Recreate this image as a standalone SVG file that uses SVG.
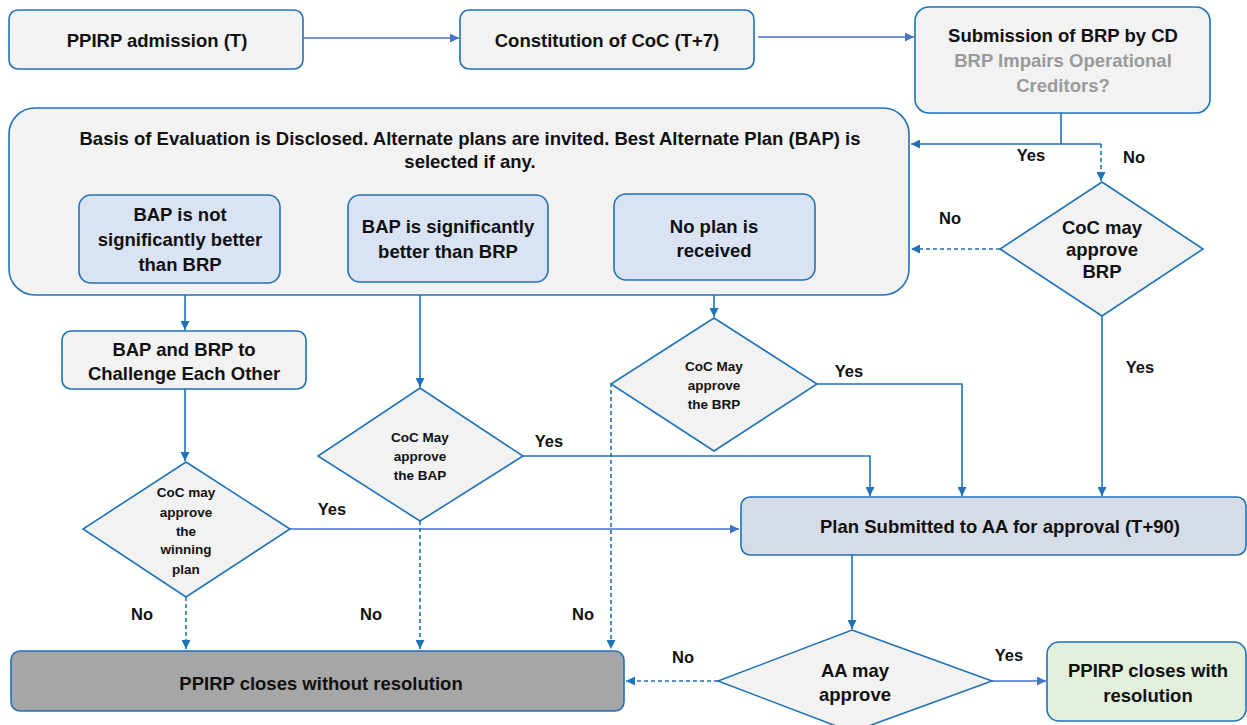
<svg xmlns="http://www.w3.org/2000/svg" width="1247" height="725" viewBox="0 0 1247 725">
<defs>
<marker id="ah" viewBox="0 0 10 10" refX="10" refY="5" markerWidth="9" markerHeight="9" markerUnits="userSpaceOnUse" orient="auto"><path d="M0,0 L10,5 L0,10 z" fill="#1f72b8"/></marker>
<marker id="ah2" viewBox="0 0 10 10" refX="10" refY="5" markerWidth="9" markerHeight="9" markerUnits="userSpaceOnUse" orient="auto"><path d="M0,0 L10,5 L0,10 z" fill="#4472c4"/></marker>
<style>
text{font-family:"Liberation Sans",Arial,sans-serif;font-weight:bold;fill:#111;text-anchor:middle;dominant-baseline:central}
.box{fill:#f2f2f2;stroke:#1f72b8;stroke-width:1.6}
.inner{fill:#dae3f3;stroke:#1f72b8;stroke-width:1.6}
.dia{fill:#f2f2f2;stroke:#1f72b8;stroke-width:1.6}
.t16{font-size:18.5px}
.t15{font-size:18.5px}
.t12{font-size:13.5px}
.lbl{font-size:16.5px}
.c{fill:none;stroke:#1f72b8;stroke-width:1.6}
.c2{fill:none;stroke:#4472c4;stroke-width:1.6}
.d{fill:none;stroke:#1f72b8;stroke-width:1.6;stroke-dasharray:4 3}
.grey{fill:#9a9a9a}
</style>
</defs>

<g id="connectors">
<path class="c2" d="M303,38 H459" marker-end="url(#ah2)"/>
<path class="c2" d="M758,37 H914" marker-end="url(#ah2)"/>
<path class="c" d="M1061,113 V144 H911" marker-end="url(#ah)"/>
<path class="c" d="M1061,144 H1101"/>
<path class="d" d="M1101,144 V181" marker-end="url(#ah)"/>
<path class="d" d="M1000,249 H911" marker-end="url(#ah)"/>
<path class="c" d="M1102,316 V496" marker-end="url(#ah)"/>
<path class="c" d="M185,283 V330" marker-end="url(#ah)"/>
<path class="c" d="M185,389 V461" marker-end="url(#ah)"/>
<path class="c2" d="M290,529 H739" marker-end="url(#ah2)"/>
<path class="d" d="M186,597 V649" marker-end="url(#ah)"/>
<path class="c" d="M420,282 V387" marker-end="url(#ah)"/>
<path class="c" d="M523,456 H870 V496" marker-end="url(#ah)"/>
<path class="d" d="M420,521 V649" marker-end="url(#ah)"/>
<path class="c" d="M714,280 V317" marker-end="url(#ah)"/>
<path class="c" d="M817,384 H962 V496" marker-end="url(#ah)"/>
<path class="d" d="M611,383 V649" marker-end="url(#ah)"/>
<path class="c" d="M852,555 V629" marker-end="url(#ah)"/>
<path class="d" d="M718,681 H626" marker-end="url(#ah)"/>
<path class="c2" d="M992,681 H1046" marker-end="url(#ah2)"/>
</g>

<g id="labels">
<text class="lbl" x="1031" y="155">Yes</text>
<text class="lbl" x="1134" y="157">No</text>
<text class="lbl" x="950" y="218">No</text>
<text class="lbl" x="1140" y="367">Yes</text>
<text class="lbl" x="332" y="509">Yes</text>
<text class="lbl" x="549" y="441">Yes</text>
<text class="lbl" x="849" y="371">Yes</text>
<text class="lbl" x="142" y="614">No</text>
<text class="lbl" x="371" y="614">No</text>
<text class="lbl" x="583" y="614">No</text>
<text class="lbl" x="683" y="657">No</text>
<text class="lbl" x="1009" y="655">Yes</text>
</g>

<g id="n-admission">
<rect class="box" x="9" y="10" width="294" height="59" rx="9"/>
<text class="t16" x="157" y="40">PPIRP admission (T)</text>
</g>
<g id="n-coc">
<rect class="box" x="460" y="10" width="294" height="59" rx="9"/>
<text class="t16" x="607" y="40">Constitution of CoC (T+7)</text>
</g>
<g id="n-brp">
<rect class="box" x="915" y="7" width="295" height="106" rx="14"/>
<text class="t16" x="1063" y="35">Submission of BRP by CD</text>
<text class="t16 grey" x="1063" y="60">BRP Impairs Operational</text>
<text class="t16 grey" x="1063" y="85">Creditors?</text>
</g>
<g id="n-basis">
<rect class="box" x="9" y="108" width="900" height="187" rx="26"/>
<text class="t15" x="470" y="138">Basis of Evaluation is Disclosed. Alternate plans are invited. Best Alternate Plan (BAP) is</text>
<text class="t15" x="470" y="161">selected if any.</text>
</g>
<g id="n-notbetter">
<rect class="inner" x="79" y="195" width="201" height="88" rx="12"/>
<text class="t16" x="180" y="214">BAP is not</text>
<text class="t16" x="180" y="239">significantly better</text>
<text class="t16" x="180" y="264">than BRP</text>
</g>
<g id="n-better">
<rect class="inner" x="348" y="195" width="200" height="87" rx="12"/>
<text class="t16" x="448" y="226">BAP is significantly</text>
<text class="t16" x="448" y="251">better than BRP</text>
</g>
<g id="n-noplan">
<rect class="inner" x="614" y="194" width="201" height="86" rx="12"/>
<text class="t16" x="714" y="226">No plan is</text>
<text class="t16" x="714" y="250">received</text>
</g>
<g id="n-cocbrp">
<polygon class="dia" points="1102,182 1203,249 1102,316 1000,249"/>
<text class="t15" x="1102" y="227">CoC may</text>
<text class="t15" x="1102" y="249">approve</text>
<text class="t15" x="1102" y="271">BRP</text>
</g>
<g id="n-challenge">
<rect class="box" x="62" y="331" width="244" height="58" rx="9"/>
<text class="t16" x="184" y="349">BAP and BRP to</text>
<text class="t16" x="184" y="373">Challenge Each Other</text>
</g>
<g id="n-winning">
<polygon class="dia" points="186,462 290,529 186,597 83,529"/>
<text class="t12" x="186" y="492">CoC may</text>
<text class="t12" x="186" y="512">approve</text>
<text class="t12" x="186" y="531">the</text>
<text class="t12" x="186" y="549">winning</text>
<text class="t12" x="186" y="569">plan</text>
</g>
<g id="n-cocbap">
<polygon class="dia" points="420,388 523,456 420,521 318,456"/>
<text class="t12" x="420" y="437">CoC May</text>
<text class="t12" x="420" y="456">approve</text>
<text class="t12" x="420" y="475">the BAP</text>
</g>
<g id="n-cocbrp2">
<polygon class="dia" points="714,318 817,384 714,451 611,384"/>
<text class="t12" x="714" y="366">CoC May</text>
<text class="t12" x="714" y="385">approve</text>
<text class="t12" x="714" y="404">the BRP</text>
</g>
<g id="n-plan">
<rect x="741" y="497" width="505" height="58" rx="9" fill="#d6dce5" stroke="#1f72b8" stroke-width="1.6"/>
<text class="t16" x="1000" y="526">Plan Submitted to AA for approval (T+90)</text>
</g>
<g id="n-aa">
<polygon class="dia" points="852,630 992,681 852,732 718,681"/>
<text class="t16" x="855" y="670">AA may</text>
<text class="t16" x="855" y="694">approve</text>
</g>
<g id="n-without">
<rect x="11" y="651" width="613" height="60" rx="9" fill="#a6a6a6" stroke="#1f72b8" stroke-width="1.6"/>
<text class="t16" x="321" y="683">PPIRP closes without resolution</text>
</g>
<g id="n-with">
<rect x="1047" y="642" width="199" height="79" rx="12" fill="#e2efda" stroke="#1f72b8" stroke-width="1.6"/>
<text class="t16" x="1148" y="670">PPIRP closes with</text>
<text class="t16" x="1148" y="695">resolution</text>
</g>
</svg>
